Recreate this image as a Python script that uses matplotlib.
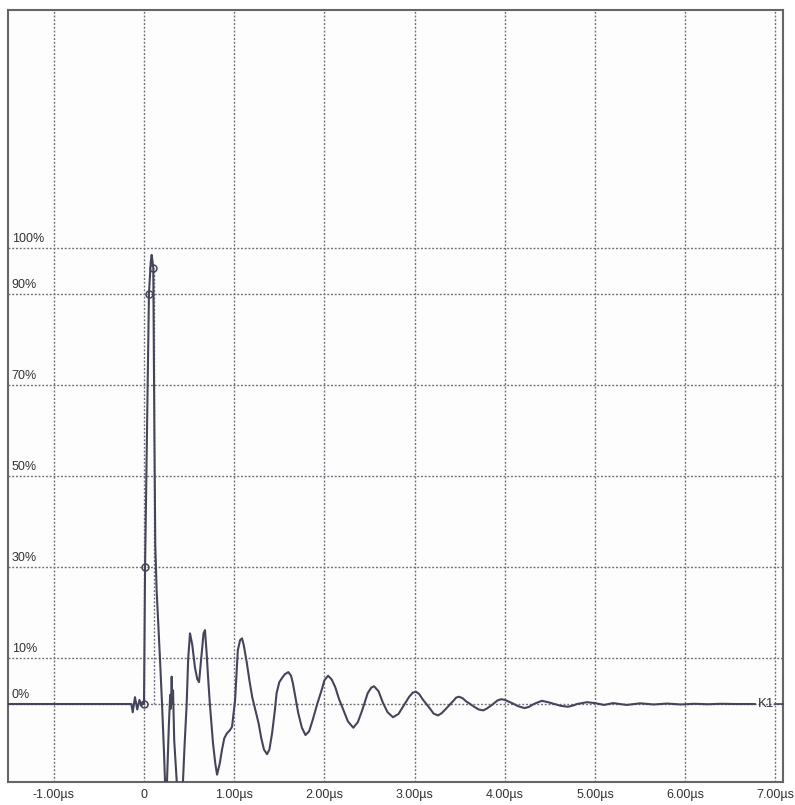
import matplotlib
matplotlib.use("Agg")
import matplotlib.pyplot as plt
import numpy as np

plt.rcParams['font.family'] = ['Liberation Sans', 'DejaVu Sans']

# Waveform K1, time in microseconds, amplitude in percent of full scale
pre_t = [-1.51, -0.14, -0.125, -0.10, -0.075, -0.05, -0.03, -0.01, 0.0]
pre_v = [0.0, 0.0, -1.8, 1.5, -1.2, 0.9, -0.4, 0.3, 0.0]

pulse_t = [0.012, 0.035, 0.055, 0.075, 0.085, 0.095, 0.103, 0.115, 0.125, 0.14,
           0.16, 0.177, 0.20, 0.222, 0.233, 0.245, 0.255, 0.275, 0.29, 0.298,
           0.307, 0.315, 0.322, 0.335, 0.363, 0.39, 0.415, 0.432]
pulse_v = [30.0, 62.0, 90.0, 97.0, 98.5, 97.0, 95.6, 60.0, 35.0, 25.0,
           17.0, 10.0, 0.0, -10.7, -17.0, -25.0, -17.0, -5.0, 2.0, -1.0,
           6.0, 0.0, 3.0, -8.0, -17.0, -25.0, -22.0, -17.0]

ring_t = [0.45, 0.473, 0.49, 0.51, 0.535, 0.565, 0.59, 0.61, 0.625, 0.643,
          0.66, 0.676, 0.695, 0.71, 0.73, 0.765, 0.79, 0.81, 0.84, 0.865,
          0.89, 0.92, 0.95, 0.976, 1.01]
ring_v = [-9.0, 0.0, 10.0, 15.5, 13.0, 8.0, 5.5, 4.8, 8.0, 12.0,
          15.5, 16.2, 11.0, 6.0, 0.0, -8.6, -13.0, -15.5, -13.0, -10.0,
          -7.5, -6.4, -5.8, -5.0, 0.9]

decay_t = [1.04, 1.065, 1.086, 1.105, 1.14, 1.17, 1.20, 1.24, 1.27, 1.30,
           1.33, 1.364, 1.39, 1.42, 1.45, 1.47, 1.50, 1.53, 1.56, 1.60,
           1.63, 1.65, 1.68, 1.71, 1.75, 1.79, 1.83, 1.87, 1.92, 1.97,
           2.00, 2.04, 2.08, 2.12, 2.16, 2.21, 2.26, 2.32, 2.37, 2.42,
           2.48, 2.52, 2.55, 2.60, 2.65, 2.70, 2.76, 2.82, 2.87, 2.94,
           2.98, 3.015, 3.05, 3.09, 3.17, 3.21, 3.26, 3.30, 3.34, 3.42,
           3.46, 3.49, 3.53, 3.57, 3.66, 3.71, 3.76, 3.80, 3.85, 3.92,
           3.96, 4.00, 4.08, 4.15, 4.22, 4.27, 4.32, 4.41, 4.48, 4.55,
           4.62, 4.70, 4.76, 4.80, 4.91, 5.00]
decay_v = [11.8, 14.0, 14.4, 13.0, 9.0, 5.0, 1.5, -1.8, -4.2, -7.5,
           -10.0, -11.0, -10.0, -6.4, -1.5, 2.4, 4.8, 5.7, 6.5, 7.0,
           6.2, 4.6, 1.3, -2.0, -5.2, -6.8, -6.0, -3.5, 0.0, 3.1,
           5.2, 6.2, 5.4, 3.7, 1.2, -1.3, -3.8, -5.2, -4.0, -1.3,
           2.4, 3.6, 3.9, 2.8, 0.2, -1.8, -2.9, -2.2, -0.6, 1.6,
           2.5, 2.7, 2.2, 1.0, -1.0, -2.1, -2.5, -2.0, -1.2, 0.5,
           1.4, 1.6, 1.3, 0.6, -0.6, -1.2, -1.4, -1.0, -0.3, 0.8,
           1.05, 0.9, 0.2, -0.5, -0.9, -0.6, 0.0, 0.7, 0.4, 0.0,
           -0.4, -0.6, -0.3, 0.0, 0.4, 0.2]

tail_t = [5.1, 5.2, 5.35, 5.5, 5.65, 5.8, 5.95, 6.1, 6.25, 6.4, 6.55, 6.77]
tail_v = [-0.2, 0.2, -0.2, 0.15, -0.1, 0.1, -0.1, 0.05, -0.05, 0.05, 0.0, 0.0]

# Level markers on the leading edge (0 %, 30 %, 90 %, peak)
marker_t = [0.0, 0.012, 0.055, 0.103]
marker_v = [0.0, 30.0, 90.0, 95.6]
cursor_t = 0.111

x_ticks = [-1, 0, 1, 2, 3, 4, 5, 6, 7]
x_labels = ['-1.00µs', '0', '1.00µs', '2.00µs', '3.00µs', '4.00µs',
            '5.00µs', '6.00µs', '7.00µs']
y_levels = [0, 10, 30, 50, 70, 90, 100]
y_labels = ['0%', '10%', '30%', '50%', '70%', '90%', '100%']
trace_name = 'K1'

t = np.concatenate([pre_t, pulse_t, ring_t, decay_t, tail_t])
v = np.concatenate([pre_v, pulse_v, ring_v, decay_v, tail_v])

trace_col = '#45455a'
grid_col = '#707078'
text_col = '#333333'
grid_ls = (0, (1.4, 1.3))

fig = plt.figure(figsize=(7.95, 8.05), dpi=100)
fig.patch.set_facecolor('white')
ax = fig.add_axes([0.010, 0.0286, 0.975, 0.9594])
ax.set_facecolor('#fdfdfd')
ax.set_xlim(-1.508, 7.084)
ax.set_ylim(-17.1, 152.3)

for xv in x_ticks:
    ax.axvline(xv, color=grid_col, lw=1.0, ls=grid_ls, zorder=1)
for yv in y_levels:
    ax.axhline(yv, color=grid_col, lw=1.0, ls=grid_ls, zorder=1)

ax.plot(t, v, color=trace_col, lw=1.5, zorder=3, solid_joinstyle='round')
ax.plot([cursor_t, cursor_t], [0, marker_v[-1]], color=grid_col, lw=1.0,
        ls=grid_ls, zorder=2)
ax.plot(marker_t, marker_v, ls='none', marker='o', ms=5, mfc='none',
        mec=trace_col, mew=1.1, zorder=4)

for yv, lab in zip(y_levels, y_labels):
    ax.text(-1.465, yv + 0.7, lab, fontsize=9, color=text_col,
            ha='left', va='bottom', zorder=5)

ax.text(6.8, 0, trace_name, fontsize=9.5, color=text_col, ha='left',
        va='center', zorder=5)
ax.plot([7.0, 7.084], [0, 0], color=trace_col, lw=1.2, clip_on=False, zorder=5)

ax.set_xticks(x_ticks)
ax.set_xticklabels(x_labels, fontsize=9, color=text_col)
ax.set_yticks([])
ax.tick_params(axis='x', length=0, pad=5)

for sp in ax.spines.values():
    sp.set_color('#666666')
    sp.set_linewidth(1.5)

fig.savefig('out.png', dpi=100, facecolor='white')
